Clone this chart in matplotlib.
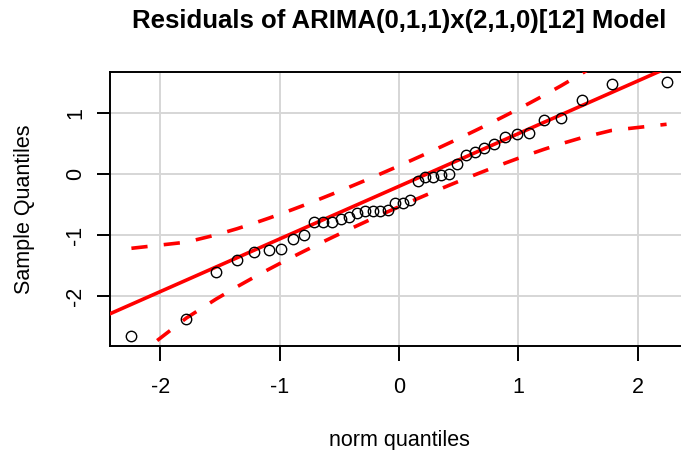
import numpy as np
import matplotlib
matplotlib.use("Agg")
import matplotlib.pyplot as plt
from statistics import NormalDist

plt.rcParams['font.family'] = ['Liberation Sans', 'DejaVu Sans']

# sorted residuals (n = 40)
residuals = [-2.65, -2.38, -1.60, -1.41, -1.28, -1.24, -1.23, -1.06, -1.00, -0.78,
             -0.78, -0.775, -0.73, -0.70, -0.63, -0.61, -0.61, -0.607, -0.58, -0.47,
             -0.465, -0.416, -0.11, -0.05, -0.045, -0.008, 0.008, 0.16, 0.31, 0.37,
             0.43, 0.49, 0.61, 0.665, 0.67, 0.89, 0.917, 1.22, 1.476, 1.51]
x_ticks = [-2, -1, 0, 1, 2]
y_ticks = [-2, -1, 0, 1]
title = "Residuals of ARIMA(0,1,1)x(2,1,0)[12] Model"

nd = NormalDist()
y = np.array(residuals)
n = len(y)
P = (np.arange(1, n + 1) - 0.5) / n
z = np.array([nd.inv_cdf(p) for p in P])

# reference line through the quartiles, like car::qqPlot
q1, q3 = np.quantile(y, [0.25, 0.75])
zq = nd.inv_cdf(0.75)
slope = (q3 - q1) / (2 * zq)
intercept = (q1 + q3) / 2
fit = intercept + slope * z
dens = np.array([nd.pdf(v) for v in z])
se = slope / dens * np.sqrt(P * (1 - P) / n)
crit = nd.inv_cdf(0.975)
upper = fit + crit * se
lower = fit - crit * se

fig = plt.figure(figsize=(6.81, 4.5), dpi=100)
ax = fig.add_axes([110 / 681, 1 - 346 / 450, 578 / 681, 274 / 450])

ax.grid(True, color='#d6d6d6', lw=1.4)
ax.set_axisbelow(True)

xs = np.array([-3.5, 3.5])
ax.plot(xs, intercept + slope * xs, color='red', lw=2.6, zorder=3)
ax.plot(z, upper, color='red', lw=2.6, ls=(0, (4.5, 4.5)), zorder=3)
ax.plot(z, lower, color='red', lw=2.6, ls=(0, (4.5, 4.5)), zorder=3)
ax.plot(z, y, 'o', mfc='none', mec='black', ms=7.5, mew=1.0, zorder=4)

xr = z.max() - z.min()
yr = y.max() - y.min()
ax.set_xlim(z.min() - 0.04 * xr, z.max() + 0.04 * xr)
ax.set_ylim(y.min() - 0.04 * yr, y.max() + 0.04 * yr)

ax.set_xticks(x_ticks)
ax.set_yticks(y_ticks)
ax.set_xticklabels([str(v) for v in x_ticks])
ax.set_yticklabels([str(v) for v in y_ticks], rotation=90, va='center')
ax.tick_params(direction='out', width=1.4, labelsize=15.5)
ax.tick_params(axis='x', length=11, pad=11.5)
ax.tick_params(axis='y', length=9.5, pad=7.5)
for s in ax.spines.values():
    s.set_linewidth(1.4)

ax.set_xlabel("norm quantiles", fontsize=15.5, labelpad=23)
ax.set_ylabel("Sample Quantiles", fontsize=15.5, labelpad=22)
fig.text(399 / 681, 1 - 21 / 450, title, ha='center', va='center',
         fontsize=18.5, fontweight='bold')

fig.savefig("out.png", dpi=100)
